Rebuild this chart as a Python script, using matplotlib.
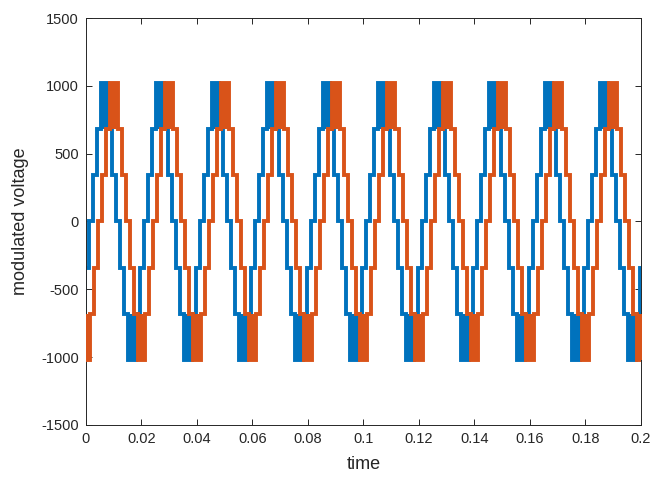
import matplotlib

matplotlib.use("Agg")
import matplotlib.pyplot as plt
import numpy as np

plt.rcParams["font.family"] = ["Liberation Sans", "DejaVu Sans"]
plt.rcParams["axes.unicode_minus"] = False

# -------------------------------------
# Data (one fundamental period)
# -------------------------------------

FREQ = 50.0  # Hz, 10 cycles in 0.2 s
N_CYCLES = 10

# switching edges of one period, in degrees of the waveform's own phase
edges_deg = [-13, 13, 39, 65, 115, 141, 167, 193, 219, 245, 295, 321, 347]
# voltage level held between consecutive edges
levels = [0, 340, 680, 1020, 680, 340, 0, -340, -680, -1020, -680, -340]
# intervals where the output chops between two levels (drawn filled)
pwm_index = [3, 9]
pwm_inner = [680, -680]

# phase of each trace relative to t = 0 (degrees)
phases = {"blue": -30, "orange": -90}
colors = {"blue": "#0072BD", "orange": "#D95319"}

xticks = [0, 0.02, 0.04, 0.06, 0.08, 0.1, 0.12, 0.14, 0.16, 0.18, 0.2]
xticklabels = ["0", "0.02", "0.04", "0.06", "0.08", "0.1", "0.12", "0.14", "0.16", "0.18", "0.2"]
yticks = [-1500, -1000, -500, 0, 500, 1000, 1500]


def deg_to_time(deg: float) -> float:
    return deg / 360.0 / FREQ


# -------------------------------------
# Plotting
# -------------------------------------

fig = plt.figure(figsize=(6.6, 4.8), dpi=100)
ax = fig.add_axes([0.1303, 0.1146, 0.8409, 0.8479])

for z, (name, phase) in enumerate(phases.items()):
    color = colors[name]
    all_edges = []
    all_values = []
    for k in range(-1, N_CYCLES + 1):
        shift = 360 * k - phase
        all_edges.extend(e + shift for e in edges_deg[:-1])
        all_values.extend(levels)
    all_edges.append(edges_deg[-1] + 360 * N_CYCLES - phase)
    t_edges = np.array([deg_to_time(e) for e in all_edges])

    ax.stairs(
        all_values,
        t_edges,
        baseline=None,
        color=color,
        linewidth=2.8,
        zorder=2 + z,
    )

    for k in range(-1, N_CYCLES + 1):
        shift = 360 * k - phase
        for idx, inner in zip(pwm_index, pwm_inner):
            t0 = deg_to_time(edges_deg[idx] + shift)
            t1 = deg_to_time(edges_deg[idx + 1] + shift)
            ax.fill_between(
                [t0, t1], inner, levels[idx], color=color, linewidth=0, zorder=2 + z
            )

ax.set_xlim(0, 0.2)
ax.set_ylim(-1500, 1500)
ax.set_xticks(xticks)
ax.set_xticklabels(xticklabels)
ax.set_yticks(yticks)

ax.tick_params(
    direction="in",
    length=4,
    width=0.7,
    colors="#262626",
    labelsize=10.5,
    top=True,
    right=True,
    pad=5,
)
for spine in ax.spines.values():
    spine.set_color("#262626")
    spine.set_linewidth(0.7)

ax.set_xlabel("time", fontsize=13, color="#262626", labelpad=7)
ax.set_ylabel("modulated voltage", fontsize=13, color="#262626", labelpad=9)

fig.savefig("out.png", dpi=100)
